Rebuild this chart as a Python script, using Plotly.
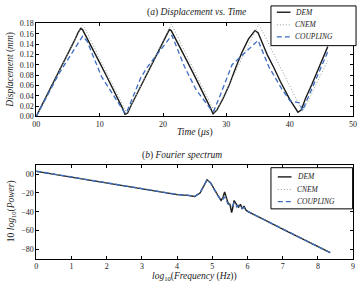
import plotly.graph_objects as go

# ---------- (a) Displacement vs. Time ----------
dem_t = [0, 1, 2, 3, 4, 5, 6, 6.6, 7.0, 7.3, 8, 9, 10, 11, 12, 13, 13.6, 14.0, 14.4, 15, 16, 17, 18, 19, 20,
         20.6, 21.0, 21.3, 22, 23, 24, 25, 26, 27, 27.5, 27.9, 28.5, 29.5, 30.5, 31.5, 32.5, 33.5, 34.5, 35.0,
         35.5, 36.5, 37.5, 38.5, 40.0, 40.7, 41.3, 41.8, 42.5, 43.5, 44.5, 45.5, 46.0]
dem_v = [0.000, 0.024, 0.049, 0.073, 0.097, 0.121, 0.146, 0.162, 0.170, 0.168, 0.152, 0.128, 0.104, 0.080,
         0.056, 0.032, 0.016, 0.004, 0.006, 0.022, 0.046, 0.070, 0.094, 0.118, 0.142, 0.159, 0.168, 0.166,
         0.150, 0.126, 0.102, 0.078, 0.054, 0.030, 0.016, 0.005, 0.012, 0.035, 0.062, 0.095, 0.125, 0.150,
         0.166, 0.162, 0.148, 0.118, 0.094, 0.068, 0.033, 0.018, 0.008, 0.012, 0.035, 0.062, 0.090, 0.120,
         0.135]

cnem_t = [0, 7.0, 7.3, 7.6, 14.0, 14.3, 14.6, 21.0, 21.3, 21.6, 27.9, 28.2, 28.5, 34.8, 35.1, 35.4, 41.7,
          42.0, 42.3, 46.0]
cnem_v = [0.000, 0.172, 0.177, 0.172, 0.012, 0.006, 0.012, 0.170, 0.178, 0.172, 0.014, 0.007, 0.013, 0.171,
          0.178, 0.172, 0.015, 0.010, 0.015, 0.108]

coup_t = [0, 3.6, 7.3, 8.0, 10.3, 12.0, 13.9, 14.2, 15.0, 16.5, 17.5, 21.4, 23.4, 25.2, 27.7, 28.0, 29.0,
          30.9, 35.0, 36.7, 38.8, 40.05, 41.6, 42.0, 46.0]
coup_v = [0.000, 0.083, 0.155, 0.146, 0.077, 0.045, 0.008, 0.006, 0.030, 0.075, 0.095, 0.157, 0.096, 0.052,
          0.011, 0.010, 0.040, 0.100, 0.147, 0.096, 0.052, 0.030, 0.026, 0.011, 0.125]

t_ticks = [0, 10, 20, 30, 40, 50]
t_ticktext = ["00", "10", "20", "30", "40", "50"]
d_ticks = [0.00, 0.02, 0.04, 0.06, 0.08, 0.10, 0.12, 0.14, 0.16, 0.18]
d_ticktext = ["0.00", "0.02", "0.04", "0.06", "0.08", "0.10", "0.12", "0.14", "0.16", "0.18"]

# ---------- (b) Fourier spectrum ----------
f_x = [0, 0.5, 1, 1.5, 2, 2.5, 3, 3.5, 4, 4.3, 4.5, 4.65, 4.75, 4.85, 4.95, 5.05, 5.15, 5.25, 5.3, 5.35,
       5.4, 5.45, 5.5, 5.55, 5.58, 5.62, 5.7, 5.75, 5.8, 5.85, 5.9, 5.95, 6.0, 6.2, 6.5, 7.0, 7.5, 8.0, 8.35]
dem_p = [3.0, 0.0, -3.2, -6.3, -9.5, -12.6, -15.8, -18.8, -21.8, -22.5, -23.8, -20.0, -13.0, -6.0, -9.0,
         -16.0, -22.0, -28.0, -25.0, -19.0, -26.0, -31.0, -32.0, -41.0, -36.0, -28.0, -33.0, -35.0, -32.0,
         -37.0, -34.0, -38.0, -39.5, -43.5, -49.0, -58.5, -67.5, -76.5, -83.5]
cnem_p = [3.6, 0.6, -2.6, -5.7, -8.9, -12.0, -15.2, -18.2, -21.2, -22.0, -23.3, -19.6, -12.7, -6.0, -9.2,
          -16.3, -22.2, -27.0, -26.0, -22.0, -27.0, -30.0, -32.5, -35.0, -34.0, -31.0, -33.5, -34.5, -33.5,
          -36.0, -35.0, -37.5, -39.0, -43.0, -48.6, -58.2, -67.2, -76.2, -83.3]
coup_p = [3.2, 0.2, -3.0, -6.1, -9.3, -12.4, -15.6, -18.6, -21.6, -22.3, -23.6, -19.8, -12.9, -6.1, -9.4,
          -16.5, -22.5, -27.5, -27.0, -24.0, -29.0, -32.0, -32.5, -34.0, -33.5, -30.0, -35.0, -33.0, -34.0,
          -36.5, -35.5, -38.0, -39.2, -43.3, -48.8, -58.4, -67.4, -76.4, -83.6]

f_ticks = [0, 1, 2, 3, 4, 5, 6, 7, 8, 9]
f_ticktext = ["0", "1", "2", "3", "4", "5", "6", "7", "8", "9"]
p_ticks = [0, -20, -40, -60, -80]
p_ticktext = ["00", "\u221220", "\u221240", "\u221260", "\u221280"]

names = ["DEM", "CNEM", "COUPLING"]
colors = ["#1a1a1a", "#8fa38f", "#3d6cc0"]
dashes = ["solid", "1px,2px", "5px,3px"]
widths = [1.4, 1.0, 1.3]

SERIF = "Liberation Serif"
W, H = 362, 287

fig = go.Figure()
top_series = [(dem_t, dem_v), (cnem_t, cnem_v), (coup_t, coup_v)]
bot_series = [(f_x, dem_p), (f_x, cnem_p), (f_x, coup_p)]
for i in range(3):
    fig.add_trace(go.Scatter(x=top_series[i][0], y=top_series[i][1], mode="lines", name=names[i],
                             line=dict(color=colors[i], dash=dashes[i], width=widths[i]),
                             xaxis="x", yaxis="y", showlegend=False))
for i in range(3):
    fig.add_trace(go.Scatter(x=bot_series[i][0], y=bot_series[i][1], mode="lines", name=names[i],
                             line=dict(color=colors[i], dash=dashes[i], width=widths[i]),
                             xaxis="x2", yaxis="y2", showlegend=False))

axis_common = dict(showline=True, linecolor="black", linewidth=1, mirror="ticks", ticks="inside",
                   ticklen=3, tickcolor="black", showgrid=False, zeroline=False,
                   tickfont=dict(family=SERIF, size=8, color="#222"))

X0, X1 = 33 / W, 357 / W
fig.update_layout(
    width=W, height=H, margin=dict(l=0, r=0, t=0, b=0),
    paper_bgcolor="white", plot_bgcolor="white", showlegend=False,
    xaxis=dict(domain=[X0, X1], range=[0, 50], tickvals=t_ticks, ticktext=t_ticktext, anchor="y",
               **axis_common),
    yaxis=dict(domain=[1 - 116 / H, 1 - 20 / H], range=[0, 0.18], tickvals=d_ticks,
               ticktext=d_ticktext, anchor="x", **axis_common),
    xaxis2=dict(domain=[X0, X1], range=[0, 9], tickvals=f_ticks, ticktext=f_ticktext, anchor="y2",
                **axis_common),
    yaxis2=dict(domain=[1 - 263 / H, 1 - 166 / H], range=[-90, 10], tickvals=p_ticks,
                ticktext=p_ticktext, anchor="x2", **axis_common),
)

ann_font = dict(family=SERIF, size=9.5, color="#222")


def label(text, px, py, angle=0, font=ann_font, xanchor="center"):
    fig.add_annotation(text=text, x=px / W, y=1 - py / H, xref="paper", yref="paper",
                       xanchor=xanchor, yanchor="middle", showarrow=False, textangle=angle,
                       font=font)


label("(<i>a</i>) <i>Displacement vs. Time</i>", 197, 9)
label("<i>Time</i> (<i>\u03bcs</i>)", 195, 133)
label("<i>Displacement</i> (<i>mm</i>)", 7, 68, -90)
label("(<i>b</i>) <i>Fourier spectrum</i>", 182, 156)
label("<i>log</i><sub>10</sub>(<i>Frequency</i> (<i>Hz</i>))", 195, 281)
label("10 <i>log</i><sub>10</sub>(<i>Power</i>)", 7, 214, -90)

# ---------- legends (drawn as boxes with sample lines and text) ----------
leg_font = dict(family=SERIF, size=7.5, color="#222", style="italic")


def draw_legend(x0, y0, x1, y1, rows, sx0, sx1, tx):
    fig.add_shape(type="rect", xref="paper", yref="paper", x0=x0 / W, x1=x1 / W,
                  y0=1 - y1 / H, y1=1 - y0 / H, fillcolor="white",
                  line=dict(color="black", width=1), layer="above")
    for i, ry in enumerate(rows):
        fig.add_shape(type="line", xref="paper", yref="paper", x0=sx0 / W, x1=sx1 / W,
                      y0=1 - ry / H, y1=1 - ry / H, layer="above",
                      line=dict(color=colors[i], dash=dashes[i], width=widths[i]))
        label(names[i], tx, ry, font=leg_font, xanchor="left")


draw_legend(273, 2, 360, 43, [8.5, 21.5, 34], 279, 293, 296)
draw_legend(273, 169, 356.5, 211.5, [178.5, 191.5, 204], 280, 294, 298)

fig.write_html("out.html")
